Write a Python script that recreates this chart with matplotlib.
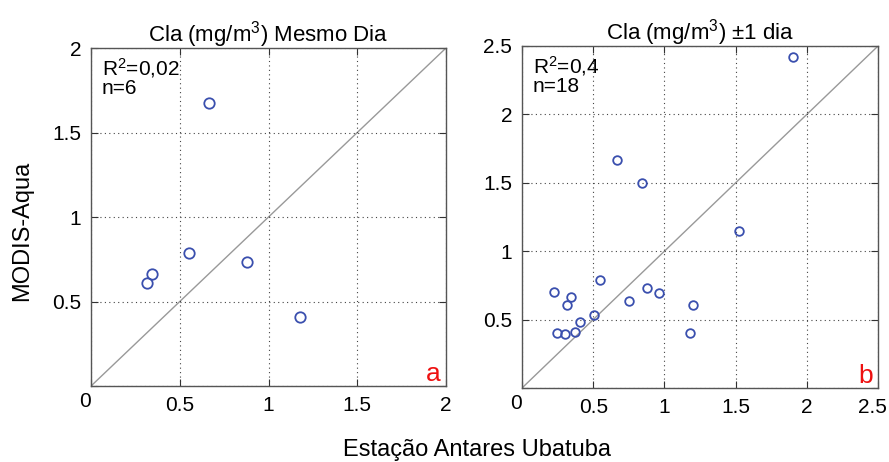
import matplotlib
matplotlib.use("Agg")
import matplotlib.pyplot as plt
from matplotlib.transforms import ScaledTranslation

plt.rcParams['font.family'] = ['Liberation Sans', 'DejaVu Sans']
plt.rcParams['mathtext.fontset'] = 'custom'
plt.rcParams['mathtext.rm'] = 'Liberation Sans'
plt.rcParams['mathtext.it'] = 'Liberation Sans'

# mesmo dia (a)
x_a = [0.664, 0.551, 0.343, 0.315, 0.879, 1.180]
y_a = [1.673, 0.789, 0.663, 0.609, 0.734, 0.406]

# +-1 dia (b)
x_b = [1.902, 0.666, 0.839, 1.523, 0.549, 0.227, 0.343, 0.315, 0.881,
       0.965, 0.752, 1.199, 0.502, 0.409, 0.374, 0.248, 0.301, 1.178]
y_b = [2.422, 1.670, 1.500, 1.151, 0.789, 0.699, 0.662, 0.609, 0.733,
       0.691, 0.638, 0.609, 0.531, 0.484, 0.411, 0.399, 0.394, 0.404]

ticks_a = [0, 0.5, 1, 1.5, 2]
ticks_b = [0, 0.5, 1, 1.5, 2, 2.5]
titles = [r'Cla (mg/m$^3$) Mesmo Dia', r'Cla (mg/m$^3$) $\pm$1 dia']
stats = [r'R$^2$=0,02' + '\nn=6', r'R$^2$=0,4' + '\nn=18']
letters = ['a', 'b']

fig = plt.figure(figsize=(8.89, 4.62), dpi=100)
ax1 = fig.add_axes([0.1024, 0.1645, 0.3993, 0.7316])
ax2 = fig.add_axes([0.5872, 0.1602, 0.4005, 0.7403])

blue = '#3a4fae'
panels = [(ax1, x_a, y_a, ticks_a, 7.5), (ax2, x_b, y_b, ticks_b, 6.2)]
for i, (ax, xs, ys, tk, ms) in enumerate(panels):
    lim = tk[-1]
    ax.plot([0, lim], [0, lim], color='#999999', lw=1, zorder=1)
    ax.plot(xs, ys, 'o', mfc='none', mec=blue, mew=1.3, ms=ms, zorder=3)
    ax.set_xlim(0, lim)
    ax.set_ylim(0, lim)
    ax.set_xticks(tk)
    ax.set_yticks(tk)
    ax.set_xticklabels(['%g' % t for t in tk])
    ax.set_yticklabels([''] + ['%g' % t for t in tk[1:]])
    ax.grid(True, linestyle=(0, (1, 3)), color='#444444', lw=0.8)
    ax.tick_params(direction='in', length=5, labelsize=15, top=True,
                   right=True, pad=7, color='#333333')
    xl = ax.xaxis.get_majorticklabels()
    xl[0].set_horizontalalignment('right')
    xl[0].set_transform(xl[0].get_transform() +
                        ScaledTranslation(0, 0.04, fig.dpi_scale_trans))
    for sp in ax.spines.values():
        sp.set_color('#555555')
        sp.set_linewidth(1.0)
    ax.set_title(titles[i], fontsize=16, pad=5)
    ax.text(0.03, 0.975, stats[i], transform=ax.transAxes, fontsize=15,
            va='top', ha='left', linespacing=0.9)
    ax.text(0.985, 0.0, letters[i], transform=ax.transAxes, fontsize=19,
            color='#ee1111', ha='right', va='bottom')

last = ax2.xaxis.get_majorticklabels()[-1]
last.set_horizontalalignment('right')
last.set_transform(last.get_transform() +
                   ScaledTranslation(0.09, 0, fig.dpi_scale_trans))

fig.text(0.025, 0.50, 'MODIS-Aqua', rotation=90, fontsize=17,
         ha='center', va='center')
fig.text(0.537, 0.026, 'Estação Antares Ubatuba', fontsize=17,
         ha='center', va='center')

fig.savefig('out.png', dpi=100)
